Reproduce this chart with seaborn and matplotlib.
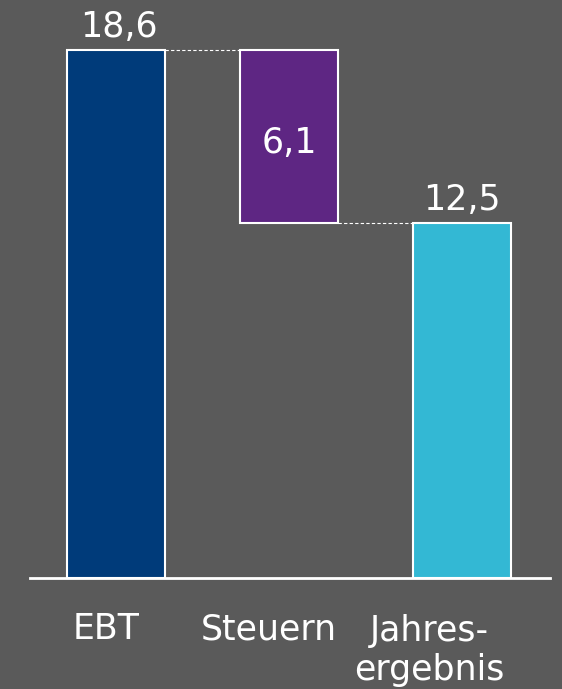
import matplotlib
matplotlib.use("Agg")
import matplotlib.pyplot as plt
import seaborn as sns

categories = ["EBT", "Steuern", "Jahres-\nergebnis"]
values = [18.6, -6.1, 12.5]
is_total = [True, False, True]
colors = ["#003B7A", "#5E2683", "#33B8D4"]
value_labels = ["18,6", "6,1", "12,5"]

BG = "#5A5A5A"

# waterfall: floating bar for the tax step
tops, bottoms = [], []
running = 0.0
for v, tot in zip(values, is_total):
    if tot:
        bottoms.append(0.0)
        tops.append(v)
        running = v
    else:
        new = running + v
        bottoms.append(min(running, new))
        tops.append(max(running, new))
        running = new
heights = [t - b for t, b in zip(tops, bottoms)]

sns.set_theme(style="white")
plt.rcParams["font.family"] = ["DejaVu Sans"]

fig = plt.figure(figsize=(5.62, 6.89), dpi=100, facecolor=BG)
ax = fig.add_axes([30 / 562, 111 / 689, 520 / 562, 578 / 689])
ax.set_facecolor(BG)

sns.barplot(x=categories, y=heights, hue=categories, palette=colors, width=0.566,
            edgecolor="white", linewidth=1.5, legend=False, ax=ax, saturation=1)
for p, b in zip(ax.patches, bottoms):
    p.set_y(b)

ax.set_xlim(-0.497, 2.509)
ax.set_ylim(0, 20.36)
ax.set_yticks([])
ax.set_xticks([])
for s in ["top", "right", "left"]:
    ax.spines[s].set_visible(False)
ax.spines["bottom"].set_color("white")
ax.spines["bottom"].set_linewidth(2)

# connectors
hw = 0.566 / 2
ax.plot([0 + hw, 1 - hw], [tops[0], tops[0]], ls=(0, (3, 2)), color="white", lw=0.8)
ax.plot([1 + hw, 2 - hw], [bottoms[1], bottoms[1]], ls=(0, (3, 2)), color="white", lw=0.8)

fs = 25
# value labels
ax.text(0.017, tops[0] + 0.46, value_labels[0], ha="center", va="baseline", color="white", fontsize=fs)
ax.text(1, bottoms[1] + heights[1] / 2 - 0.58, value_labels[1], ha="center", va="baseline",
        color="white", fontsize=fs)
ax.text(2, tops[2] + 0.46, value_labels[2], ha="center", va="baseline", color="white", fontsize=fs)

# category labels (baseline of the last line)
offsets = [-0.058, -0.116, -0.19]
for i, (c, o) in enumerate(zip(categories, offsets)):
    n = c.count("\n")
    ax.text(i + o, -2.15 - n * 1.44, c, ha="center", va="baseline", color="white", fontsize=fs,
            linespacing=1.2, clip_on=False)

fig.savefig("out.png", dpi=100, facecolor=BG)
